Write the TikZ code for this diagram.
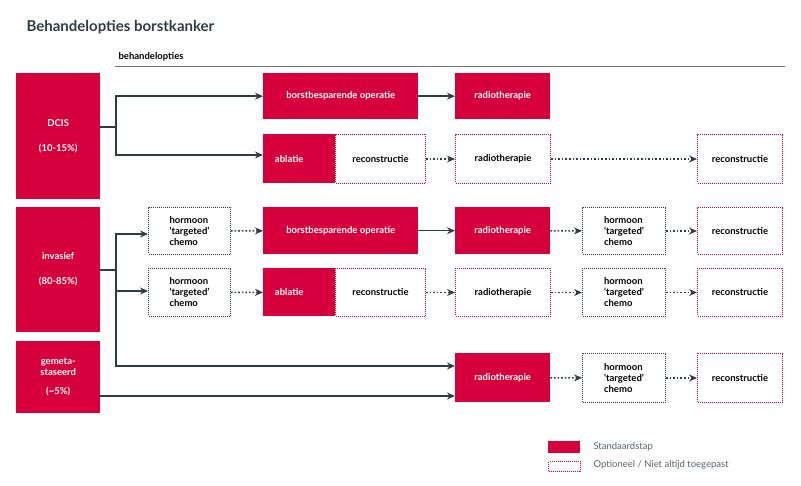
\documentclass[tikz,border=0pt]{standalone}
\usepackage{fontspec}
\setmainfont{Lato}
\usetikzlibrary{arrows.meta}
\definecolor{rd}{HTML}{D5003C}
\definecolor{dk}{HTML}{2E3D45}
\tikzset{
 base/.style={inner sep=0pt,align=center,font=\bfseries\fontsize{9.5}{11}\selectfont,anchor=north west},
 std/.style={base,fill=rd,text=white},
 opt/.style={base,draw=rd,densely dotted,line width=1pt,fill=white},
 hor/.style={base,draw=dk,densely dotted,line width=1pt,fill=white,align=left},
 sa/.style={draw=dk,line width=1.6pt,-{Stealth[length=8pt,width=7pt]}},
 da/.style={draw=dk,line width=1.6pt,dotted,-{Stealth[length=8pt,width=7pt]}},
}
\newcommand\bx[6]{\node[#1,minimum width=#4pt,minimum height=#5pt] (#2) at #3 {#6};}
\begin{document}
\begin{tikzpicture}[x=1pt,y=-1pt]
\useasboundingbox (0,0) rectangle (801,486);
\node[anchor=west,text=dk,font=\bfseries\fontsize{15}{18}\selectfont] (title) at (23,27) {Behandelopties borstkanker};
\node[anchor=west,font=\bfseries\fontsize{9.5}{11}\selectfont] (bh) at (115,57) {behandelopties};
\draw[dk!70,line width=1pt] (115,67) -- (785,67);
% left boxes
\bx{std}{dcis}{(16,73)}{84}{126}{DCIS\\[14pt](10-15\%)}
\bx{std}{inv}{(16,207)}{84}{125}{invasief\\[14pt](80-85\%)}
\bx{std}{gem}{(16,341)}{84}{72}{gemeta-\\staseerd\\[8pt](\textasciitilde5\%)}
% row1
\bx{std}{bo1}{(263,73)}{155}{46}{borstbesparende operatie}
\bx{std}{ra1}{(455,73)}{95}{46}{radiotherapie}
% row2
\bx{std}{ab2}{(263,134)}{72}{49}{\hspace*{-20pt}ablatie}
\bx{opt}{re2}{(335,134)}{90}{49}{reconstructie}
\bx{opt}{ra2}{(455,134)}{95}{49}{radiotherapie}
\bx{opt}{rc2}{(697,134)}{85}{49}{reconstructie}
% row3
\bx{hor}{ho3}{(148,207)}{82}{47}{hormoon\\`targeted'\\chemo}
\bx{std}{bo3}{(263,207)}{155}{47}{borstbesparende operatie}
\bx{std}{ra3}{(455,207)}{95}{47}{radiotherapie}
\bx{hor}{hp3}{(582,207)}{83}{47}{hormoon\\`targeted'\\chemo}
\bx{opt}{rc3}{(697,207)}{85}{47}{reconstructie}
% row4
\bx{hor}{ho4}{(148,268)}{82}{48}{hormoon\\`targeted'\\chemo}
\bx{std}{ab4}{(263,268)}{72}{48}{\hspace*{-20pt}ablatie}
\bx{opt}{re4}{(335,268)}{90}{48}{reconstructie}
\bx{opt}{ra4}{(455,268)}{95}{48}{radiotherapie}
\bx{hor}{hp4}{(582,268)}{83}{48}{hormoon\\`targeted'\\chemo}
\bx{opt}{rc4}{(697,268)}{85}{48}{reconstructie}
% row5
\bx{std}{ra5}{(455,353)}{95}{49}{radiotherapie}
\bx{hor}{hp5}{(582,353)}{83}{49}{hormoon\\`targeted'\\chemo}
\bx{opt}{rc5}{(697,353)}{85}{49}{reconstructie}
% connectors
\coordinate (j1) at (116,127);
\draw[draw=dk,line width=1.6pt] (dcis.east|-j1) -- (j1);
\draw[sa] (j1) |- (bo1.west);
\draw[sa] (j1) |- (ab2.west|-0,155);
\coordinate (j2) at (116,270);
\draw[draw=dk,line width=1.6pt] (inv.east|-j2) -- (j2);
\draw[sa] (j2) |- (ho3.west|-0,234);
\draw[sa] (j2) |- (ho4.west|-0,291);
\draw[sa] (j2) |- (ra5.west|-0,366);
\draw[sa] (gem.east|-0,396) -- (ra5.west|-0,396);
\draw[sa] (bo1) -- (ra1);
\draw[da] (re2) -- (ra2);
\draw[da] (ra2) -- (rc2);
\draw[da] (ho3) -- (bo3);
\draw[sa] (bo3) -- (ra3);
\draw[da] (ra3) -- (hp3);
\draw[da] (hp3) -- (rc3);
\draw[da] (ho4) -- (ab4);
\draw[da] (re4) -- (ra4);
\draw[da] (ra4) -- (hp4);
\draw[da] (hp4) -- (rc4);
\draw[da] (ra5) -- (hp5);
\draw[da] (hp5) -- (rc5);
% legend
\node[std,minimum width=32pt,minimum height=12pt] (l1) at (548,441) {};
\node[opt,minimum width=32pt,minimum height=10pt] (l2) at (548,461) {};
\node[anchor=west,text=dk!80,font=\fontsize{9.5}{11}\selectfont] (t1) at (590,447) {Standaardstap};
\node[anchor=west,text=dk!80,font=\fontsize{9.5}{11}\selectfont] (t2) at (590,465) {Optioneel / Niet altijd toegepast};
\end{tikzpicture}
\end{document}
